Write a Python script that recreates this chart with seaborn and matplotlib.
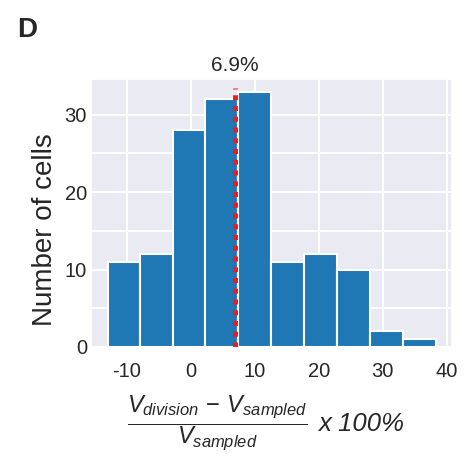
import matplotlib
matplotlib.use("Agg")
import matplotlib.pyplot as plt
from matplotlib.ticker import MultipleLocator
import seaborn as sns

# histogram bins (percent difference)
bin_edges = [-13.0, -7.9, -2.8, 2.3, 7.4, 12.6, 17.7, 22.8, 28.0, 33.1, 38.3]
cell_counts = [11, 12, 28, 32, 33, 11, 12, 10, 2, 1]
mean_diff = 6.9
x_ticks = [-10, 0, 10, 20, 30, 40]
y_ticks = [0, 10, 20, 30]

sns.set_theme(style="darkgrid")
plt.rcParams["font.family"] = ["Liberation Sans", "DejaVu Sans"]
plt.rcParams["axes.unicode_minus"] = False
plt.rcParams["mathtext.fontset"] = "custom"
plt.rcParams["mathtext.rm"] = "Liberation Sans"
plt.rcParams["mathtext.it"] = "Liberation Sans:italic"

bin_centers = [(a + b) / 2 for a, b in zip(bin_edges[:-1], bin_edges[1:])]

fig, ax = plt.subplots(figsize=(4.77, 4.72), dpi=100)
fig.subplots_adjust(left=0.191, right=0.948, top=0.833, bottom=0.265)

sns.histplot(
    x=bin_centers,
    weights=cell_counts,
    bins=bin_edges,
    color="#1f77b4",
    edgecolor="white",
    linewidth=1.5,
    alpha=1,
    ax=ax,
)
ax.set_ylim(0, max(cell_counts) * 1.05)

# mean marker, thick square dots
ax.plot([mean_diff, mean_diff], [0, 33.5], color="#ed1c24", lw=3.6,
        linestyle=(0, (1, 1.15)), dash_capstyle="butt", zorder=5)
ax.text(mean_diff, 1.015, f"{mean_diff}%", transform=ax.get_xaxis_transform(),
        ha="center", va="bottom", fontsize=15)

ax.set_xticks(x_ticks)
ax.set_yticks(y_ticks)
ax.yaxis.set_minor_locator(MultipleLocator(5))
ax.grid(which="major", color="white", lw=1.5)
ax.grid(which="minor", axis="y", color="white", lw=1.5)
ax.tick_params(which="both", length=0)
ax.tick_params(axis="x", labelsize=14.5, pad=11)
ax.tick_params(axis="y", labelsize=14.5, pad=3)

ax.set_ylabel("Number of cells", fontsize=20)
ax.yaxis.set_label_coords(-0.093, 0.437)
ax.set_xlabel("")

fig.text(0.455, 0.104,
         r"$\dfrac{V_{division}\,-\,V_{sampled}}{V_{sampled}}$",
         ha="center", va="center", fontsize=17)
fig.text(0.667, 0.101, "x 100%", ha="left", va="center", fontsize=18.5,
         style="italic")

fig.text(0.036, 0.937, "D", ha="left", va="center", fontsize=20,
         fontweight="bold")

fig.savefig("out.png", dpi=100)
